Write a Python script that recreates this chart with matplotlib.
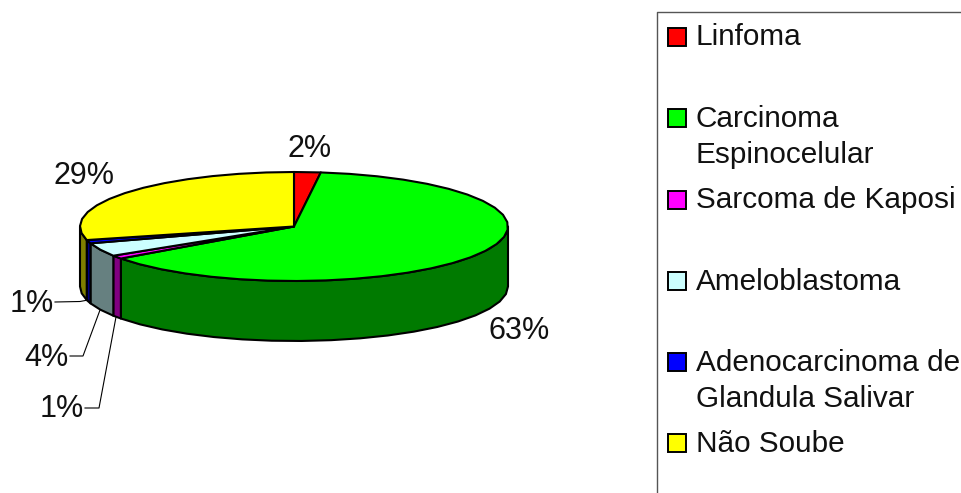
import numpy as np
import matplotlib
matplotlib.use("Agg")
import matplotlib.pyplot as plt
from matplotlib.patches import Polygon, Rectangle

plt.rcParams['font.family'] = ['Liberation Sans', 'DejaVu Sans']

categories = ["Linfoma", "Carcinoma\nEspinocelular", "Sarcoma de Kaposi",
              "Ameloblastoma", "Adenocarcinoma de\nGlandula Salivar", "Não Soube"]
percent_values = [2, 63, 1, 4, 1, 29]
percent_labels = ["2%", "63%", "1%", "4%", "1%", "29%"]
top_colors = ["#FF0000", "#00FF00", "#FF00FF", "#CCFFFF", "#0000FF", "#FFFF00"]
side_colors = ["#800000", "#007A00", "#800080", "#668080", "#000080", "#808000"]

# Pie geometry in figure pixels
CX, CY, RX, RY, DEPTH = 294.0, 226.5, 214.0, 54.5, 60.0
LABEL_FONT = 22.0
LEGEND_FONT = 21.4
LW = 1.5

fig = plt.figure(figsize=(9.62, 4.93), dpi=100)
ax = fig.add_axes([0, 0, 1, 1])
ax.set_xlim(0, 962)
ax.set_ylim(493, 0)
ax.axis("off")


def rim(a0, a1, dy=0.0, step=8.0):
    """Rim points from a0 to a1, degrees clockwise from the top of the ellipse."""
    n = max(int(np.ceil((a1 - a0) / step)), 1)
    t = np.radians(np.linspace(a0, a1, n + 1))
    return np.column_stack([CX + RX * np.sin(t), CY - RY * np.cos(t) + dy])


edges = np.concatenate([[0], np.cumsum(percent_values)]) * 3.6

# Outer wall: only the front half of the rim (90 to 270 degrees) is visible
for a0, a1, col in zip(edges[:-1], edges[1:], side_colors):
    lo, hi = max(a0, 90.0), min(a1, 270.0)
    if hi <= lo:
        continue
    upper = rim(lo, hi)
    lower = rim(lo, hi, DEPTH)[::-1]
    ax.add_patch(Polygon(np.vstack([upper, lower]), closed=True, facecolor=col,
                         edgecolor="black", lw=LW, joinstyle="round", zorder=2))

# Top faces
for a0, a1, col in zip(edges[:-1], edges[1:], top_colors):
    pts = np.vstack([[CX, CY], rim(a0, a1)])
    ax.add_patch(Polygon(pts, closed=True, facecolor=col, edgecolor="black",
                         lw=LW, joinstyle="round", zorder=3))

# Percentage labels: (left x, baseline y)
label_pos = [(288, 157), (489, 339), (40, 417), (24, 366), (10, 312), (54, 184)]
for txt, (x, y) in zip(percent_labels, label_pos):
    ax.text(x, y, txt, fontsize=LABEL_FONT, color="#111111", ha="left", va="baseline", zorder=5)

# Leader lines for the narrow slices
leaders = [
    [(55, 302), (80, 301.5), (88, 300)],
    [(70, 356), (83, 356), (100, 310)],
    [(85, 408), (99, 408), (116, 317)],
]
for seg in leaders:
    xs, ys = zip(*seg)
    ax.plot(xs, ys, color="black", lw=0.8, zorder=4)

# Legend frame runs off the right and bottom edges of the figure
ax.plot([980, 657.5, 657.5], [11.5, 11.5, 510], color="#555555", lw=1.0, zorder=1)

row_keys = [37, 118, 200, 281, 362, 443]
row_baselines = [45, 127, 208, 289.5, 371, 452]
for name, col, yk, yb in zip(categories, top_colors, row_keys, row_baselines):
    ax.add_patch(Rectangle((668, yk - 9), 18, 18, facecolor=col, edgecolor="black",
                           lw=1.4, zorder=3))
    for i, line in enumerate(name.split("\n")):
        ax.text(696, yb + i * 36, line, fontsize=LEGEND_FONT, color="#111111",
                ha="left", va="baseline", zorder=5)

fig.savefig("out.png", dpi=100, facecolor="white")
